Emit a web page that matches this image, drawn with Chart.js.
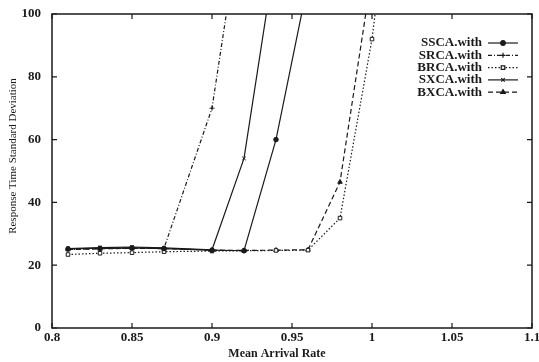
<!DOCTYPE html>
<html>
<head>
<meta charset="utf-8">
<script src="https://cdn.jsdelivr.net/npm/chart.js@4/dist/chart.umd.min.js"></script>
<style>
  html, body { margin: 0; padding: 0; background: #fff; }
  #wrap { width: 539px; height: 362px; }
</style>
</head>
<body>
<div id="wrap"><canvas id="chart" width="539" height="362"></canvas></div>
<script>
// arrival rates (x) shared by every series
const arrival = [0.81, 0.83, 0.85, 0.87, 0.90, 0.92, 0.94, 0.96, 0.98, 1.00, 1.02];

// response time std dev (values above 100 run off the top)
const ssca = [25.2, 25.4, 25.5, 25.3, 24.8, 24.6, 60, 110];
const srca = [25.0, 25.3, 25.5, 25.4, 70, 137];
const brca = [23.4, 23.8, 24.0, 24.3, 24.5, 24.6, 24.7, 24.8, 35, 92, 175];
const sxca = [25.3, 25.6, 25.8, 25.5, 24.9, 54, 120];
const bxca = [25.0, 25.2, 25.4, 25.3, 24.8, 24.7, 24.8, 24.9, 46.5, 113];

const seriesNames = ["SSCA.with", "SRCA.with", "BRCA.with", "SXCA.with", "BXCA.with"];
const xTicks = [0.8, 0.85, 0.9, 0.95, 1, 1.05, 1.1];
const yTicks = [0, 20, 40, 60, 80, 100];
const xTitle = "Mean Arrival Rate";
const yTitle = "Response Time Standard Deviation";

const ink = "#1a1a1a";
const serif = "'Liberation Serif', 'DejaVu Serif', serif";

function pts(vals) {
    return vals.map((v, i) => ({ x: arrival[i], y: v }));
}

function mkSet(label, vals, style, dash, fill, r) {
    return {
        label: label,
        data: pts(vals),
        borderColor: ink,
        borderWidth: 1.2,
        borderDash: dash,
        pointStyle: style,
        pointRadius: r,
        pointBorderWidth: 1,
        pointBorderColor: ink,
        pointBackgroundColor: fill,
        tension: 0,
        fill: false,
    };
}

// gnuplot style frame with inward ticks on all four sides, plus axis titles
const frameTicks = {
    id: "frameTicks",
    afterDraw(chart) {
        const ctx = chart.ctx;
        const a = chart.chartArea;
        const xs = chart.scales.x;
        const ys = chart.scales.y;
        ctx.save();
        ctx.strokeStyle = ink;
        ctx.lineWidth = 1.5;
        ctx.strokeRect(a.left, a.top, a.right - a.left, a.bottom - a.top);
        ctx.lineWidth = 1.2;
        ctx.beginPath();
        xTicks.forEach((t) => {
            const p = xs.getPixelForValue(t);
            ctx.moveTo(p, a.bottom); ctx.lineTo(p, a.bottom - 5);
            ctx.moveTo(p, a.top); ctx.lineTo(p, a.top + 5);
        });
        yTicks.forEach((t) => {
            const p = ys.getPixelForValue(t);
            ctx.moveTo(a.left, p); ctx.lineTo(a.left + 5, p);
            ctx.moveTo(a.right, p); ctx.lineTo(a.right - 5, p);
        });
        ctx.stroke();

        ctx.fillStyle = ink;
        ctx.textAlign = "center";
        ctx.textBaseline = "middle";
        ctx.font = "bold 12px " + serif;
        ctx.fillText(xTitle, 277, 354);
        ctx.font = "11px " + serif;
        ctx.translate(13, 156);
        ctx.rotate(-Math.PI / 2);
        ctx.fillText(yTitle, 0, 0);
        ctx.restore();
    },
};

// key in the upper right corner: label then line sample with marker
const keyBox = {
    id: "keyBox",
    afterDraw(chart) {
        const ctx = chart.ctx;
        ctx.save();
        ctx.font = "bold 13px " + serif;
        ctx.textAlign = "right";
        ctx.textBaseline = "middle";
        chart.data.datasets.forEach((ds, i) => {
            const y = 43 + i * 12.3;
            ctx.fillStyle = ink;
            ctx.fillText(ds.label, 482, y);
            ctx.strokeStyle = ink;
            ctx.lineWidth = 1.2;
            ctx.setLineDash(ds.borderDash);
            ctx.beginPath();
            ctx.moveTo(488, y);
            ctx.lineTo(518, y);
            ctx.stroke();
            ctx.setLineDash([]);
            ctx.fillStyle = ds.pointBackgroundColor;
            Chart.helpers.drawPoint(ctx, {
                pointStyle: ds.pointStyle,
                radius: ds.pointRadius,
                rotation: 0,
                borderWidth: 1,
            }, 503, y);
        });
        ctx.restore();
    },
};

const chart = new Chart(document.getElementById("chart"), {
    type: "line",
    data: {
        datasets: [
            mkSet(seriesNames[0], ssca, "circle", [], ink, 2.3),
            mkSet(seriesNames[1], srca, "cross", [4, 2, 1, 2], ink, 2.5),
            mkSet(seriesNames[2], brca, "rect", [1.5, 2], "#fff", 2.5),
            mkSet(seriesNames[3], sxca, "crossRot", [], ink, 2.5),
            mkSet(seriesNames[4], bxca, "triangle", [5, 3], ink, 2.6),
        ],
    },
    options: {
        responsive: false,
        devicePixelRatio: 1,
        animation: false,
        layout: { padding: { top: 14, right: 7, left: 0, bottom: 0 } },
        plugins: {
            legend: { display: false },
            tooltip: { enabled: false },
        },
        scales: {
            x: {
                type: "linear",
                min: 0.8,
                max: 1.1,
                afterBuildTicks: (s) => { s.ticks = xTicks.map((v) => ({ value: v })); },
                afterFit: (s) => { s.height = 34; s.paddingLeft = 0; s.paddingRight = 0; },
                grid: { display: false, drawTicks: false, tickLength: 0 },
                border: { display: false },
                ticks: {
                    color: ink,
                    padding: 2,
                    maxRotation: 0,
                    autoSkip: false,
                    font: { family: serif, size: 13, weight: "bold" },
                    callback: (v) => String(+v.toFixed(2)),
                },
            },
            y: {
                min: 0,
                max: 100,
                afterBuildTicks: (s) => { s.ticks = yTicks.map((v) => ({ value: v })); },
                afterFit: (s) => { s.width = 52; s.paddingTop = 0; s.paddingBottom = 0; },
                grid: { display: false, drawTicks: false, tickLength: 0 },
                border: { display: false },
                ticks: {
                    color: ink,
                    padding: 11,
                    font: { family: serif, size: 13, weight: "bold" },
                },
            },
        },
    },
    plugins: [frameTicks, keyBox],
});
</script>
</body>
</html>
